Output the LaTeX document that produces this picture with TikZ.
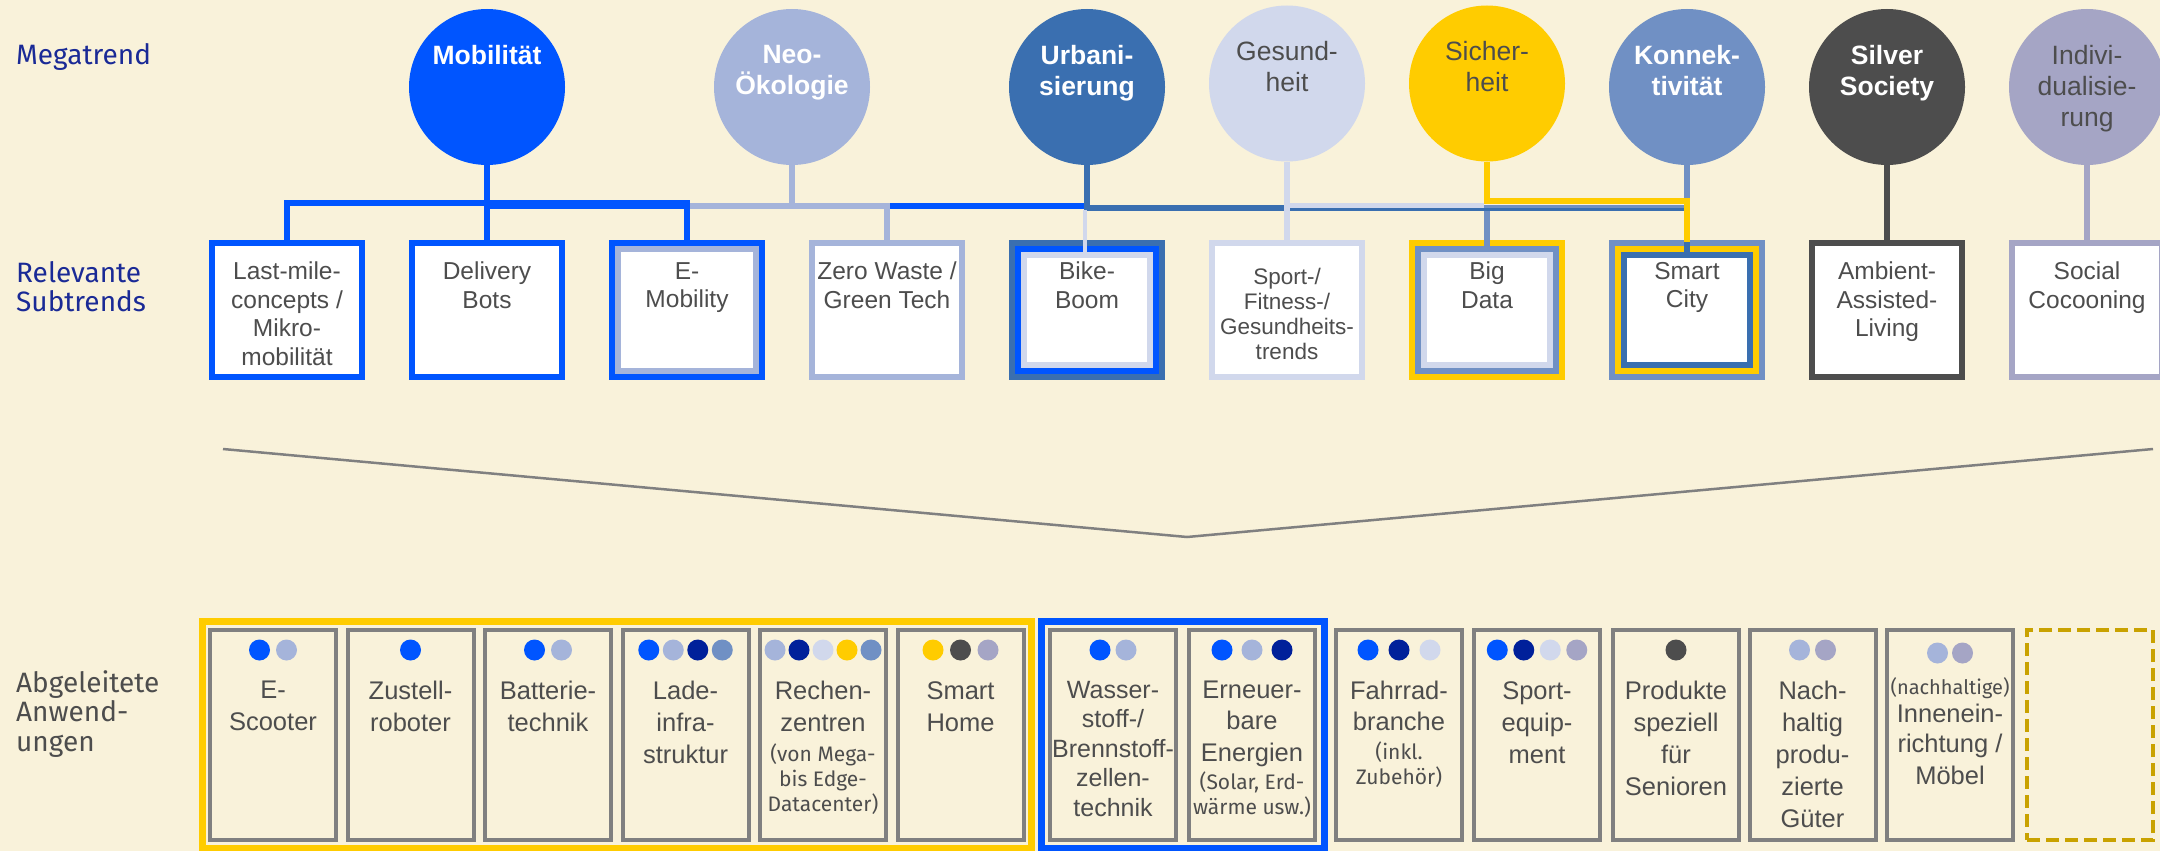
\documentclass[tikz,border=0pt]{standalone}
\usepackage{fontspec}
\setmainfont{Liberation Sans}
\newfontfamily\grotesk{Fira Sans}
\usepackage{tikz}
\usepackage{xcolor}
\usetikzlibrary{calc}
\usetikzlibrary{fit}
\usetikzlibrary{positioning}

\definecolor{bgc}{HTML}{F9F2DA}
\definecolor{mobc}{HTML}{0055FF}
\definecolor{neoc}{HTML}{A5B4DA}
\definecolor{urbc}{HTML}{3A6FB0}
\definecolor{gesc}{HTML}{D1D8EC}
\definecolor{sichc}{HTML}{FFCC00}
\definecolor{konc}{HTML}{7090C4}
\definecolor{silc}{HTML}{4D4D4D}
\definecolor{indc}{HTML}{A5A5C5}
\definecolor{navyc}{HTML}{00209A}
\definecolor{txtc}{HTML}{4D4D4D}
\definecolor{labc}{HTML}{1A2A96}
\definecolor{appc}{HTML}{808080}
\definecolor{goldc}{HTML}{C9A200}

% second and third frame inside a subtrend box: node, inset, colour
\newcommand{\innerframe}[3]{%
    \draw[#3, line width=6pt] ([shift={(#2,#2)}]#1.north west) rectangle ([shift={(-#2,-#2)}]#1.south east);}
\newcommand{\subsmall}{\grotesk\fontsize{21}{25}\selectfont}

\begin{document}
\begin{tikzpicture}
    [x=1pt, y=-1pt,
    megatrend/.style={circle, minimum size=156pt, inner sep=0pt, outer sep=0pt},
    megatext/.style={anchor=north, align=center, inner sep=0pt, text=txtc, font=\fontsize{26.5}{31}\selectfont},
    megabold/.style={megatext, text=white, font=\bfseries\fontsize{26.5}{31}\selectfont},
    subtrend/.style={rectangle, fill=white, line width=6pt, minimum width=150pt, minimum height=134pt, inner sep=0pt, outer sep=0pt},
    subtext/.style={anchor=north, align=center, inner sep=0pt, text=txtc, font=\fontsize{24.5}{28.5}\selectfont},
    app/.style={rectangle, draw=appc, line width=4pt, minimum width=126pt, minimum height=210pt, inner sep=0pt, outer sep=0pt},
    apptext/.style={anchor=north, align=center, inner sep=0pt, text=txtc, font=\fontsize{25.5}{32}\selectfont},
    appgroup/.style={rectangle, line width=7pt, inner xsep=8pt, inner ysep=8.5pt},
    trenddot/.style={circle, minimum size=21pt, inner sep=0pt},
    rowlabel/.style={anchor=north west, align=left, inner sep=0pt, font=\grotesk\fontsize{28}{29.5}\selectfont},
    mtlink/.style={line width=6pt}]
    \useasboundingbox (0,0) rectangle (2160,851);
    \fill[bgc] (0,0) rectangle (2160,851);

    \node(megalabel)[rowlabel, text=labc] at (16,43) {Megatrend};
    \node(sublabel)[rowlabel, text=labc] at (16,261) {Relevante\\Subtrends};
    \node(applabel)[rowlabel, text=txtc] at (16,670) {Abgeleitete\\Anwend-\\ungen};

    % megatrends
    \foreach \name/\x/\y/\col in {mob/487/87/mobc, neo/792/87/neoc, urb/1087/87/urbc, ges/1287/83.5/gesc, sich/1487/83.5/sichc, kon/1687/87/konc, silver/1887/87/silc, indiv/2087/87/indc}{
        \node(\name)[megatrend, fill=\col] at (\x,\y) {};
    }
    \foreach \name/\txt in {mob/Mobilität, neo/{Neo-\\Ökologie}, urb/{Urbani-\\sierung}, kon/{Konnek-\\tivität}, silver/{Silver\\Society}}{
        \node(\name-t)[megabold] at ($(\name)+(0,-42)$) {\txt};
    }
    \foreach \name/\txt in {ges/{Gesund-\\heit}, sich/{Sicher-\\heit}, indiv/{Indivi-\\dualisie-\\rung}}{
        \node(\name-t)[megatext] at ($(\name)+(0,-42)$) {\txt};
    }

    % subtrends
    \foreach \name/\x/\col in {lastmile/287/mobc, bots/487/mobc, emob/687/mobc, zerowaste/887/neoc, bike/1087/urbc, sport/1287/gesc, bigdata/1487/sichc, smartcity/1687/konc, ambient/1887/silc, social/2087/indc}{
        \node(\name)[subtrend, draw=\col] at (\x,310) {};
    }
    \innerframe{emob}{6}{neoc}
    \innerframe{bike}{6}{mobc}
    \innerframe{bike}{12}{gesc}
    \innerframe{bigdata}{6}{konc}
    \innerframe{bigdata}{12}{gesc}
    \innerframe{smartcity}{6}{sichc}
    \innerframe{smartcity}{12}{urbc}

    \foreach \name/\txt in {lastmile/{Last-mile-\\concepts /\\Mikro-\\mobilität}, bots/{Delivery\\Bots}, emob/{E-\\Mobility}, zerowaste/{Zero Waste /\\Green Tech}, bike/{Bike-\\Boom}, bigdata/{Big\\Data}, smartcity/{Smart\\City}, ambient/{Ambient-\\Assisted-\\Living}, social/{Social\\Cocooning}}{
        \node(\name-t)[subtext] at ($(\name.north)+(0,19)$) {\txt};
    }
    \node(sport-t)[subtext, font=\fontsize{22.5}{25}\selectfont] at ($(sport.north)+(0,25)$) {Sport-/\\Fitness-/\\Gesundheits-\\trends};

    % connectors
    \coordinate (busD) at (0,200.5);
    \coordinate (busA) at (0,203);
    \coordinate (busB) at (0,205.5);
    \coordinate (busE) at (0,206);
    \coordinate (busF) at (0,207.5);
    \coordinate (busC) at (0,208);
    \coordinate (busG) at (0,209.5);
    \draw[mtlink, mobc] (mob.south) -- (bots.north);
    \draw[mtlink, mobc] (lastmile.north) -- (lastmile.north |- busA) -- (emob.north |- busA) -- (emob.north);
    \draw[mtlink, mobc] (mob.south |- busB) -- ([xshift=-3pt]bike.north |- busB);
    \draw[mtlink, neoc] (neo.south) -- (neo.south |- busB);
    \draw[mtlink, neoc] ([xshift=3pt]emob.north |- busB) -| (zerowaste.north);
    \draw[mtlink, urbc] (urb.south) -- (urb.south |- busC) -- (smartcity.north |- busC);
    \draw[mtlink, gesc] (ges.south) -- (sport.north);
    \draw[mtlink, gesc] (ges.south |- busE) -- ([xshift=-3pt]bigdata.north |- busE);
    \draw[gesc, line width=4pt] ([xshift=-2pt]bike.north |- busG) -- ([xshift=-2pt,yshift=-9pt]bike.north);
    \draw[mtlink, konc] (kon.south) -- (kon.south |- busD);
    \draw[mtlink, konc] (smartcity.north |- busF) -- (bigdata.north |- busF) -- ([yshift=-5pt]bigdata.north);
    \draw[urbc, line width=2.5pt] ([xshift=3pt]ges.south |- busG) -- ([xshift=-3pt]smartcity.north |- busG);
    \draw[mtlink, sichc] (sich.south) |- (smartcity.north |- busD) -- (smartcity.north);
    \draw[mtlink, urbc] ([yshift=1pt]smartcity.north) -- ([yshift=-9pt]smartcity.north);
    \draw[mtlink, silc] (silver.south) -- (ambient.north);
    \draw[mtlink, indc] (indiv.south) -- (social.north);

    % funnel
    \coordinate (vl) at (223,449);
    \coordinate (vm) at (1187,537);
    \coordinate (vr) at (2153,449);
    \draw[appc, line width=2.5pt] (vl) -- (vm) -- (vr);

    % applications
    \foreach \name/\x in {escooter/273, zustell/410.5, batterie/548, lade/685.5, rechen/823, smarthome/960.5, wasser/1113, erneuer/1252, fahrrad/1399, sportequip/1537, senioren/1676, nachhaltig/1812.5, innen/1950}{
        \node(\name)[app] at (\x,735) {};
    }
    \node(leer)[app, draw=goldc, dash pattern=on 13pt off 6pt] at (2090,735) {};
    \node(sichgroup)[appgroup, draw=sichc, fit=(escooter)(smarthome)] {};
    \node(mobgroup)[appgroup, draw=mobc, inner xsep=9pt, fit=(wasser)(erneuer)] {};

    \foreach \name/\n/\sp/\dy/\cols in {escooter/2/27/20/{mobc,neoc}, zustell/1/27/20/{mobc}, batterie/2/27/20/{mobc,neoc}, lade/4/24.5/20/{mobc,neoc,navyc,konc}, rechen/5/24/20/{neoc,navyc,gesc,sichc,konc}, smarthome/3/27.5/20/{sichc,silc,indc}, wasser/2/26/20/{mobc,neoc}, erneuer/3/30/20/{mobc,neoc,navyc}, fahrrad/3/31/20/{mobc,navyc,gesc}, sportequip/4/26.5/20/{mobc,navyc,gesc,indc}, senioren/1/26/20/{silc}, nachhaltig/2/26/20/{neoc,indc}, innen/2/25/23/{neoc,indc}}{
        \foreach \c [count=\i] in \cols {
            \node(\name-d\i)[trenddot, fill=\c] at ($(\name.north)+({(\i-(\n+1)/2)*\sp},\dy)$) {};
        }
    }

    \foreach \name/\txt in {escooter/{E-\\Scooter}, zustell/{Zustell-\\roboter}, batterie/{Batterie-\\technik}, lade/{Lade-\\infra-\\struktur}, smarthome/{Smart\\Home}, sportequip/{Sport-\\equip-\\ment}, senioren/{Produkte\\speziell\\für\\Senioren}, nachhaltig/{Nach-\\haltig\\produ-\\zierte\\Güter}}{
        \node(\name-t)[apptext] at ($(\name.north)+(0,51)$) {\txt};
    }
    \node(wasser-t)[apptext, font=\fontsize{25}{29.5}\selectfont] at ($(wasser.north)+(0,51)$) {Wasser-\\stoff-/\\Brennstoff-\\zellen-\\technik};
    \node(rechen-t)[apptext] at ($(rechen.north)+(0,51)$) {Rechen-\\zentren\\[-2pt]\subsmall (von Mega-\\[-7pt]\subsmall bis Edge-\\[-7pt]\subsmall Datacenter)};
    \node(erneuer-t)[apptext] at ($(erneuer.north)+(0,51)$) {Erneuer-\\[-1pt]bare\\Energien\\[-4pt]\subsmall (Solar, Erd-\\[-7pt]\subsmall wärme usw.)};
    \node(fahrrad-t)[apptext] at ($(fahrrad.north)+(0,51)$) {Fahrrad-\\[-1pt]branche\\[-3pt]\subsmall (inkl.\\[-7pt]\subsmall Zubehör)};
    \node(innen-t)[apptext] at ($(innen.north)+(0,47)$) {\grotesk\fontsize{20}{24}\selectfont (nachhaltige)\\[-4pt]Innenein-\\[-2pt]richtung /\\Möbel};
\end{tikzpicture}
\end{document}
